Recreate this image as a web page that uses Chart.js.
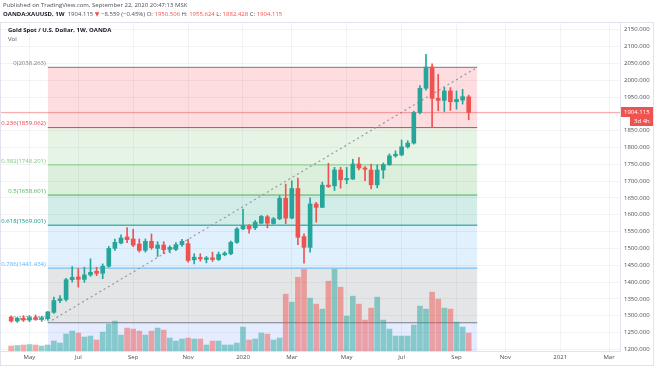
<!DOCTYPE html>
<html lang="en">
<head>
<meta charset="UTF-8">
<title>Gold Spot / U.S. Dollar, 1W, OANDA</title>
<script src="https://cdn.jsdelivr.net/npm/chart.js"></script>
<style>
    html, body { margin: 0; padding: 0; background: #fff; }
    body {
        width: 654px; height: 366px; position: relative; overflow: hidden;
        font-family: "Open Sans", "DejaVu Sans", sans-serif; color: #131722;
    }
    #c { position: absolute; left: 0; top: 0; }
    .txt { position: absolute; white-space: nowrap; line-height: 1; }
    #pub { left: 3px; top: 2px; font-size: 6px; color: #4a4d57; }
    #sym { left: 3px; top: 11px; font-size: 6px; color: #4a4d57; }
    #sym b { color: #131722; }
    .dn { color: #ef5350; }
    #title { left: 8px; top: 27px; font-size: 6px; font-weight: bold; color: #131722; }
    #vol { left: 8px; top: 36px; font-size: 6px; color: #4a4d57; }
    #panel { position: absolute; left: 0; top: 22px; width: 652px; height: 342px; border: 1px solid #e0e3eb; pointer-events: none; }
</style>
</head>
<body>
<canvas id="c" width="654" height="366"></canvas>
<div id="panel"></div>
<div class="txt" id="pub">Published on TradingView.com, September 22, 2020 20:47:13 MSK</div>
<div class="txt" id="sym"><b>OANDA:XAUUSD, 1W</b>&nbsp; 1904.115 <span class="dn">▼</span> −8.559 (−0.45%) O: <span class="dn">1950.506</span> H: <span class="dn">1955.624</span> L: <span class="dn">1882.428</span> C: <span class="dn">1904.115</span></div>
<div class="txt" id="title">Gold Spot / U.S. Dollar, 1W, OANDA</div>
<div class="txt" id="vol">Vol</div>

<script>
    // weekly bars, index 0 = week of 15 Apr 2019, 75 = week of 21 Sep 2020
    const openP  = [1296,1284,1292,1287,1294,1289,1291,1310,1345,1348,1407,1415,1408,1421,1432,1426,1447,1500,1516,1534,
                    1528,1513,1494,1521,1500,1510,1497,1497,1511,1514,1466,1473,1467,1472,1467,1481,1484,1518,1558,1567,
                    1561,1575,1594,1574,1588,1649,1590,1678,1535,1503,1632,1622,1688,1686,1733,1704,1706,1751,1739,1733,
                    1689,1733,1749,1775,1778,1802,1813,1904,1976,2039,1946,1940,1968,1936,1941,1950.506];
    const highP  = [1299,1295,1300,1300,1302,1298,1313,1355,1360,1411,1446,1440,1444,1469,1444,1454,1506,1528,1540,1562,
                    1557,1528,1528,1543,1520,1520,1508,1517,1527,1527,1484,1484,1476,1489,1489,1490,1522,1562,1617,1571,
                    1583,1598,1598,1592,1657,1691,1701,1709,1543,1650,1637,1697,1753,1741,1741,1741,1765,1770,1743,1751,
                    1748,1754,1781,1790,1822,1820,1908,1984,2077,2049,2017,1978,1978,1968,1973,1955.624];
    const lowP   = [1281,1280,1283,1282,1286,1283,1286,1307,1339,1343,1400,1385,1399,1417,1419,1410,1444,1494,1513,1517,
                    1505,1489,1489,1497,1476,1484,1487,1493,1506,1459,1454,1462,1457,1461,1464,1478,1481,1515,1556,1545,
                    1556,1573,1561,1572,1585,1573,1588,1511,1456,1489,1578,1621,1681,1672,1679,1692,1705,1733,1701,1677,
                    1680,1708,1747,1771,1775,1798,1810,1900,1970,1859,1909,1907,1910,1914,1929,1882.428];
    const closeP = [1284,1292,1287,1294,1289,1293,1311,1345,1350,1407,1414,1408,1421,1429,1426,1447,1500,1518,1531,1526,
                    1510,1494,1521,1502,1510,1496,1503,1511,1521,1464,1474,1469,1472,1467,1482,1486,1518,1558,1568,1558,
                    1578,1595,1575,1588,1649,1590,1678,1533,1503,1632,1622,1688,1684,1733,1704,1708,1751,1739,1735,1689,
                    1733,1749,1775,1780,1802,1813,1904,1976,2039,1946,1940,1968,1936,1943,1951,1904.115];
    const volume = [5,5.5,6,6.5,6,5,6,10,8,17,20,18,14,15,11,19,27,30,16,23,
                    22,20,16,20,23,21,13,10,12,13,12,12,6,10,10,6,6,8,24,11,
                    12,18,17,11,13,57,49,74,82,53,47,42,70,82,64,35,55,47,31,43,
                    54,31,22,15,15,15,26,45,42,59,52,43,42,29,24,18];

    // axis labels
    const monthTickIdx = [3, 11, 20, 29, 38, 46, 55, 64, 73, 81, 90, 98];
    const monthLabels  = ['May', 'Jul', 'Sep', 'Nov', '2020', 'Mar', 'May', 'Jul', 'Sep', 'Nov', '2021', 'Mar'];
    const priceTicks   = [1200,1250,1300,1350,1400,1450,1500,1550,1600,1650,1700,1750,1800,1850,1900,1950,2000,2050,2100,2150];

    // fib retracement drawing
    const fibRatios = [0, 0.236, 0.382, 0.5, 0.618, 0.786, 1, 1.618];
    const fibPrices = [2038.263, 1859.062, 1748.201, 1658.601, 1569.001, 1441.434, 1278.939, 809.677];
    const fibColors = ['#787b86', '#f23645', '#81c784', '#4caf50', '#089981', '#64b5f6', '#787b86', '#2962ff'];
    const fibFills  = ['rgba(0,0,0,0)', 'rgba(242,54,69,0.17)', 'rgba(129,199,132,0.2)', 'rgba(76,175,80,0.2)',
                       'rgba(8,153,129,0.18)', 'rgba(100,181,246,0.2)', 'rgba(120,123,134,0.2)', 'rgba(41,98,255,0.12)'];
    const fibStart = 6.0, fibEnd = 76.4;

    const lastClose = closeP[closeP.length - 1];
    const countdown = '3d 4h';

    const UP = '#26a69a', DOWN = '#ef5350';
    const isUp = openP.map((o, i) => closeP[i] >= o);

    Chart.defaults.font.family = '"Open Sans", "DejaVu Sans", sans-serif';
    Chart.defaults.font.size = 6;
    Chart.defaults.color = '#4a4d57';

    const datasets = [];

    // fib bands first (each fills to the previous level), lines drawn on top later
    fibPrices.forEach((p, k) => {
        datasets.push({
            type: 'line',
            data: [{ x: fibStart, y: p }, { x: fibEnd, y: p }],
            borderWidth: 0,
            borderColor: 'rgba(0,0,0,0)',
            pointRadius: 0,
            fill: k === 0 ? false : '-1',
            backgroundColor: fibFills[k],
            order: 40 - k
        });
    });
    fibPrices.forEach((p, k) => {
        datasets.push({
            type: 'line',
            data: [{ x: fibStart, y: p }, { x: fibEnd, y: p }],
            borderColor: fibColors[k],
            borderWidth: 1,
            pointRadius: 0,
            fill: false,
            order: 20
        });
    });

    // dotted trend line of the fib
    datasets.push({
        type: 'line',
        data: [{ x: fibStart, y: fibPrices[6] }, { x: fibEnd, y: fibPrices[0] }],
        borderColor: '#9598a1',
        borderWidth: 1.2,
        borderDash: [2, 3],
        pointRadius: 0,
        fill: false,
        order: 6
    });

    // last price line
    datasets.push({
        type: 'line',
        data: [{ x: -2, y: lastClose }, { x: 100, y: lastClose }],
        borderColor: 'rgba(239,83,80,0.5)',
        borderWidth: 1,
        pointRadius: 0,
        fill: false,
        order: 5
    });

    // volume
    datasets.push({
        type: 'bar',
        yAxisID: 'v',
        data: volume.map((v, i) => ({ x: i, y: v })),
        backgroundColor: isUp.map(u => u ? 'rgba(38,166,154,0.5)' : 'rgba(239,83,80,0.5)'),
        barThickness: 5,
        grouped: false,
        order: 4
    });

    // wicks
    datasets.push({
        type: 'bar',
        data: lowP.map((l, i) => ({ x: i, y: [l, highP[i]] })),
        backgroundColor: isUp.map(u => u ? UP : DOWN),
        barThickness: 1,
        grouped: false,
        order: 2
    });

    // bodies
    datasets.push({
        type: 'bar',
        data: openP.map((o, i) => ({ x: i, y: [o, closeP[i]] })),
        backgroundColor: isUp.map(u => u ? UP : DOWN),
        barThickness: 4,
        minBarLength: 1,
        grouped: false,
        order: 1
    });

    const overlay = {
        id: 'overlay',
        beforeDatasetsDraw(chart) {
            const { ctx, chartArea, scales: { x, y } } = chart;
            ctx.save();
            ctx.font = '6px "Open Sans", "DejaVu Sans", sans-serif';
            ctx.textAlign = 'right';
            ctx.textBaseline = 'bottom';
            const xl = x.getPixelForValue(fibStart) - 2;
            fibPrices.forEach((p, k) => {
                const py = y.getPixelForValue(p);
                if (py < chartArea.top || py > chartArea.bottom) return;
                ctx.fillStyle = fibColors[k];
                ctx.fillText(fibRatios[k] + '(' + p.toFixed(3) + ')', xl, py - 1);
            });
            ctx.restore();
        },
        afterDraw(chart) {
            const { ctx, chartArea, scales: { y } } = chart;
            const py = Math.round(y.getPixelForValue(lastClose));
            ctx.save();
            ctx.font = '6px "Open Sans", "DejaVu Sans", sans-serif';
            ctx.textBaseline = 'middle';
            ctx.textAlign = 'left';
            ctx.fillStyle = DOWN;
            ctx.fillRect(chartArea.right + 1, py - 5, 33, 10);
            ctx.fillRect(chartArea.right + 10, py + 5, 24, 9);
            ctx.fillStyle = '#fff';
            ctx.fillText(lastClose.toFixed(3), chartArea.right + 4, py);
            ctx.fillText(countdown, chartArea.right + 14, py + 9.5);
            ctx.restore();
        }
    };

    new Chart(document.getElementById('c'), {
        type: 'bar',
        data: { datasets: datasets },
        options: {
            responsive: false,
            animation: false,
            events: [],
            layout: { padding: { top: 23, left: 1, right: 0, bottom: 0 } },
            plugins: { legend: { display: false }, tooltip: { enabled: false } },
            scales: {
                x: {
                    type: 'linear',
                    min: -1.67,
                    max: 99.8,
                    offset: false,
                    afterBuildTicks: s => { s.ticks = monthTickIdx.map(v => ({ value: v })); },
                    afterFit: s => { s.height = 15; },
                    ticks: {
                        autoSkip: false,
                        maxRotation: 0,
                        padding: 3,
                        callback: (v, i) => monthLabels[i]
                    },
                    grid: { color: 'rgba(42,46,57,0.06)', drawTicks: false, offset: false },
                    border: { color: '#e0e3eb' }
                },
                y: {
                    type: 'linear',
                    position: 'right',
                    min: 1195,
                    max: 2170,
                    afterBuildTicks: s => { s.ticks = priceTicks.map(v => ({ value: v })); },
                    afterFit: s => { s.width = 34; },
                    ticks: {
                        padding: 4,
                        callback: v => v.toFixed(3)
                    },
                    grid: { color: 'rgba(42,46,57,0.06)', drawTicks: false },
                    border: { color: '#e0e3eb' }
                },
                v: {
                    type: 'linear',
                    display: false,
                    min: 0,
                    max: 329
                }
            }
        },
        plugins: [overlay]
    });
</script>
</body>
</html>
